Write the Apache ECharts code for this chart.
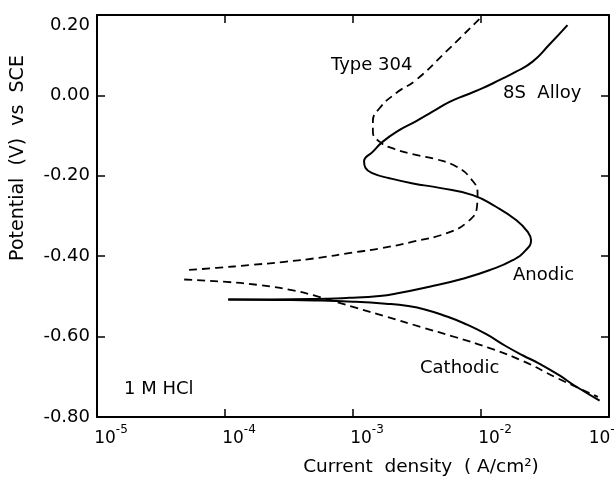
<!DOCTYPE html>
<html>
<head>
<meta charset="utf-8">
<script src="https://cdn.jsdelivr.net/npm/echarts@6/dist/echarts.min.js"></script>
<style>
html,body{margin:0;padding:0;background:#fff;}
#chart{width:615px;height:480px;}
</style>
</head>
<body>
<div id="chart"></div>
<script>
// ---- data (current density A/cm2, potential V vs SCE) ----
const alloyAnodic = [
  [0.0474, 0.175], [0.0341, 0.126], [0.0253, 0.084], [0.0188, 0.059], [0.0139, 0.038],
  [0.0103, 0.018], [0.00765, 0.001], [0.00568, -0.016], [0.00421, -0.040], [0.00312, -0.064],
  [0.0022, -0.090], [0.00171, -0.115], [0.00143, -0.140], [0.00122, -0.164], [0.00125, -0.180],
  [0.00143, -0.194], [0.00193, -0.206], [0.00294, -0.219], [0.00474, -0.230], [0.00862, -0.248],
  [0.0131, -0.277], [0.0188, -0.310], [0.0231, -0.339], [0.0246, -0.360], [0.0224, -0.385],
  [0.0177, -0.410], [0.0116, -0.435], [0.0072, -0.456], [0.00396, -0.476], [0.00218, -0.493],
  [0.00161, -0.499], [0.00094, -0.5036], [0.000485, -0.5066], [0.000106, -0.508]
];
const alloyCathodic = [
  [0.000106, -0.508], [0.00025, -0.509], [0.0005, -0.510], [0.001, -0.513], [0.0018, -0.518],
  [0.0027, -0.524], [0.0037, -0.533], [0.0052, -0.548], [0.0075, -0.568], [0.011, -0.594],
  [0.0157, -0.624], [0.0213, -0.647], [0.0285, -0.667], [0.0408, -0.696], [0.0533, -0.721],
  [0.0845, -0.759]
];
const type304Anodic = [
  [0.0097, 0.190], [0.0053, 0.108], [0.0031, 0.038], [0.0022, 0.007], [0.00161, -0.032],
  [0.00143, -0.065], [0.00143, -0.090], [0.00161, -0.115], [0.0021, -0.133], [0.0031, -0.148],
  [0.0045, -0.159], [0.0064, -0.177], [0.0083, -0.2065], [0.0094, -0.244], [0.0093, -0.277],
  [0.0079, -0.314], [0.00535, -0.343], [0.00294, -0.364], [0.00161, -0.381], [0.000995, -0.391],
  [0.00054, -0.404], [0.000292, -0.414], [0.000158, -0.422], [0.000086, -0.429], [0.000048, -0.435]
];
const type304Cathodic = [
  [0.000048, -0.458], [0.000103, -0.464], [0.000187, -0.472], [0.00034, -0.485], [0.000488, -0.497],
  [0.001, -0.526], [0.00184, -0.551], [0.00339, -0.576], [0.00625, -0.601], [0.01153, -0.628],
  [0.0213, -0.661], [0.0393, -0.703], [0.0819, -0.750]
];
const xRange = [1e-5, 1e-1];
const yRange = [-0.8, 0.2];
const yStep = 0.2;
const xTitle = 'Current  density  ( A/cm²)';
const yTitle = 'Potential  (V)  vs  SCE';
const curveLabels = ['Type 304', '8S  Alloy', 'Anodic', 'Cathodic', '1 M HCl'];

const FONT = 'DejaVu Sans';

const chart = echarts.init(document.getElementById('chart'), null, {renderer: 'canvas'});
const axisLineStyle = {color: '#000', width: 2};
const tickStyle = {color: '#000', width: 1.5};

function xAxisBase(pos, showLabel) {
  return {
    type: 'log', logBase: 10, min: xRange[0], max: xRange[1], position: pos,
    axisLine: {show: true, onZero: false, lineStyle: axisLineStyle},
    axisTick: {show: true, inside: true, length: 8, lineStyle: tickStyle},
    minorTick: {show: false}, splitLine: {show: false}, minorSplitLine: {show: false},
    axisLabel: showLabel ? {
      show: true, margin: 7, color: '#000', fontFamily: FONT, fontSize: 17,
      formatter: function (v) {
        const e = Math.round(Math.log10(v));
        if (e === Math.round(Math.log10(xRange[1]))) return '{B|10}{S|' + e + '}';
        return '{b|10}{s|' + e + '}';
      },
      rich: {
        b: {fontFamily: FONT, fontSize: 17, color: '#000', lineHeight: 30, padding: [0, 0, 0, 28]},
        s: {fontFamily: FONT, fontSize: 12, color: '#000', verticalAlign: 'top'},
        B: {fontFamily: FONT, fontSize: 17, color: '#000', lineHeight: 30},
        S: {fontFamily: FONT, fontSize: 12, color: '#000', verticalAlign: 'top', padding: [0, 7, 0, 0]}
      }
    } : {show: false}
  };
}
function yAxisBase(pos, showLabel) {
  return {
    type: 'value', min: yRange[0], max: yRange[1], interval: yStep, position: pos,
    axisLine: {show: true, onZero: false, lineStyle: axisLineStyle},
    axisTick: {show: true, inside: true, length: 8, lineStyle: tickStyle},
    splitLine: {show: false},
    axisLabel: showLabel ? {
      show: true, margin: 7, color: '#000', fontFamily: FONT, fontSize: 18,
      formatter: function (v) {
        let s = Math.abs(v) < 1e-9 ? '0.00' : v.toFixed(2);
        if (Math.abs(v - yRange[1]) < 1e-9) return '{t|' + s + '}';
        return '{n|' + s + '}';
      },
      rich: {
        n: {fontFamily: FONT, fontSize: 18, color: '#000'},
        t: {fontFamily: FONT, fontSize: 18, color: '#000', padding: [20, 0, 0, 0]}
      }
    } : {show: false}
  };
}

function textEl(txt, x, y, align, rot, size) {
  return {
    type: 'text', x: x, y: y, rotation: rot || 0, silent: true,
    style: {text: txt, fill: '#000', fontFamily: FONT, fontSize: size || 18, align: align, verticalAlign: 'middle'}
  };
}

const solid = {type: 'solid', color: '#000', width: 2};
const dashed = {type: [8, 5], color: '#000', width: 1.8};
function lineSeries(name, data, style) {
  return {name: name, type: 'line', data: data, smooth: 0.5, symbol: 'none',
    lineStyle: style, xAxisIndex: 0, yAxisIndex: 0, silent: true};
}

chart.setOption({
  animation: false,
  backgroundColor: '#fff',
  grid: {left: 97, right: 6, top: 15, bottom: 63, containLabel: false, outerBoundsMode: 'none'},
  xAxis: [xAxisBase('bottom', true), xAxisBase('top', false)],
  yAxis: [yAxisBase('left', true), yAxisBase('right', false)],
  series: [
    lineSeries('8S Alloy anodic', alloyAnodic, solid),
    lineSeries('8S Alloy cathodic', alloyCathodic, solid),
    lineSeries('Type 304 anodic', type304Anodic, dashed),
    lineSeries('Type 304 cathodic', type304Cathodic, dashed)
  ],
  graphic: [
    textEl(yTitle, 18, 158, 'center', Math.PI / 2, 19),
    textEl(xTitle, 421, 467, 'center', 0, 18.5),
    textEl(curveLabels[0], 331, 65, 'left'),
    textEl(curveLabels[1], 503, 93, 'left'),
    textEl(curveLabels[2], 513, 275, 'left'),
    textEl(curveLabels[3], 420, 368, 'left'),
    textEl(curveLabels[4], 124, 389, 'left')
  ]
});
</script>
</body>
</html>
